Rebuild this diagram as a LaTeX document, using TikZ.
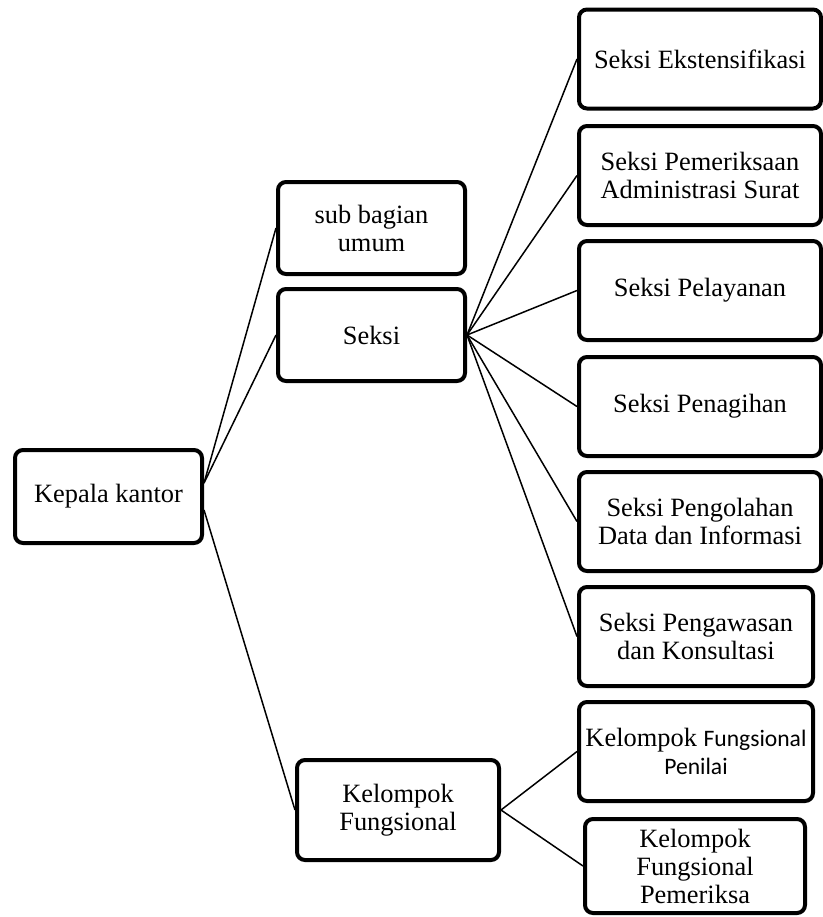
\documentclass[tikz,border=0pt]{standalone}
\usepackage{fontspec}
\setmainfont{Liberation Serif}
\newfontfamily\calibri{Carlito}
\usepackage{tikz}
\usetikzlibrary{arrows.meta, positioning}

\begin{document}
\begin{tikzpicture}[
    x=0.5pt, y=-0.5pt,
    unit/.style={draw, rounded corners=4pt, line width=2pt, align=center,
        inner sep=1pt, font=\fontsize{13.2}{14}\selectfont},
    link/.style={line width=0.75pt, draw=black}
]
\useasboundingbox (0,0) rectangle (823,917);

% Nodes
\node[unit, minimum width=93.5pt, minimum height=46.5pt] (kepala) at (108.5,496.5) {Kepala kantor};

\node[unit, minimum width=93.5pt, minimum height=46pt] (subbag) at (371.5,228) {sub bagian\\umum};
\node[unit, minimum width=93.5pt, minimum height=46pt] (seksi) at (371.5,335) {Seksi};
\node[unit, minimum width=101pt, minimum height=50pt] (kelfung) at (398,810) {Kelompok\\Fungsional};

\node[unit, minimum width=121pt, minimum height=49.5pt] (ekst) at (700,59) {Seksi Ekstensifikasi};
\node[unit, minimum width=121pt, minimum height=49.5pt] (pemadm) at (700,175.5) {Seksi Pemeriksaan\\Administrasi Surat};
\node[unit, minimum width=121pt, minimum height=49.5pt] (layanan) at (700,290.5) {Seksi Pelayanan};
\node[unit, minimum width=121pt, minimum height=49.5pt] (tagih) at (700,406.5) {Seksi Penagihan};
\node[unit, minimum width=121pt, minimum height=49.5pt] (olah) at (700,521.5) {Seksi Pengolahan\\Data dan Informasi};
\node[unit, minimum width=117pt, minimum height=49.5pt] (awas) at (696,636.5) {Seksi Pengawasan\\dan Konsultasi};

\node[unit, minimum width=117pt, minimum height=49.5pt] (penilai) at (696,751.5)
    {Kelompok {\calibri\fontsize{11.8}{14}\selectfont Fungsional}\\{\calibri\fontsize{11.8}{14}\selectfont Penilai}};
\node[unit, minimum width=110pt, minimum height=47pt] (pemeriksa) at (695,866) {Kelompok\\Fungsional\\Pemeriksa};

% Edges
\draw[link] (kepala.8) -- (subbag.west);
\draw[link] (kepala.8) -- (seksi.west);
\draw[link] (kepala.-8) -- (kelfung.west);

\draw[link] (seksi.east) -- (ekst.west);
\draw[link] (seksi.east) -- (pemadm.west);
\draw[link] (seksi.east) -- (layanan.west);
\draw[link] (seksi.east) -- (tagih.west);
\draw[link] (seksi.east) -- (olah.west);
\draw[link] (seksi.east) -- (awas.west);

\draw[link] (kelfung.east) -- (penilai.west);
\draw[link] (kelfung.east) -- (pemeriksa.west);

\end{tikzpicture}
\end{document}
